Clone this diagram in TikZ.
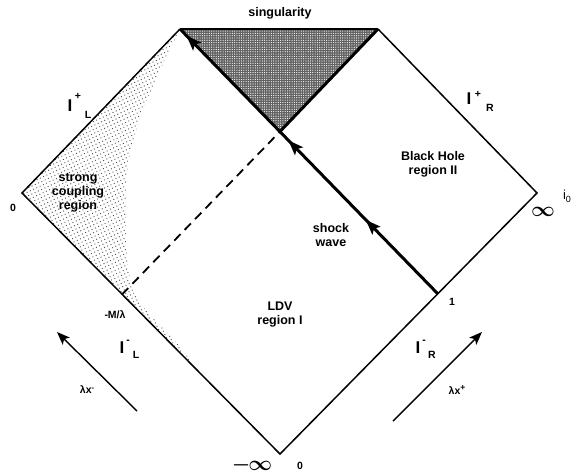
\documentclass[tikz,border=0pt]{standalone}
\usepackage{amsmath}
\usepackage{fontspec}
\setmainfont{Liberation Sans}
\usetikzlibrary{patterns.meta,arrows.meta,decorations.markings}
\begin{document}
\begin{tikzpicture}[x=1pt,y=-1pt,
  lbl/.style={font=\fontsize{12.5}{14}\selectfont\bfseries, align=center, inner sep=0pt},
  small/.style={font=\fontsize{10.5}{11}\selectfont\bfseries, inner sep=0pt},
  bigI/.style={font=\fontsize{17}{17}\selectfont\bfseries, inner sep=0pt},
  supsub/.style={font=\fontsize{10.5}{10}\selectfont\bfseries, inner sep=0pt},
  inf/.style={font=\fontsize{22}{22}\selectfont, inner sep=0pt},
  edgeline/.style={line width=1.5pt, line join=miter},
  thickline/.style={line width=3pt},
  coordarrow/.style={line width=1.4pt, -{Stealth[length=13pt,width=10pt,inset=3pt]}},
  shockarrow/.style={thickline, postaction={decorate}, decoration={markings,
     mark=at position 0.28 with {\arrow{Stealth[length=15pt,width=11pt,inset=3pt]}},
     mark=at position 0.58 with {\arrow{Stealth[length=15pt,width=11pt,inset=3pt]}},
     mark=at position 0.975 with {\arrow{Stealth[length=15pt,width=11pt,inset=3pt]}}}}
]
\useasboundingbox (0,0) rectangle (576,475);

% key points
\coordinate (L) at (22,193);
\coordinate (T1) at (180,29);
\coordinate (T2) at (378,29);
\coordinate (R) at (537,193);
\coordinate (B) at (280,454);
\coordinate (P1) at (438,294);
\coordinate (H) at (280,131.5);
\coordinate (M) at (122,294.5);

% strong coupling stipple region
\fill[pattern={Dots[distance=3.6pt,radius=0.65pt,angle=25]}, pattern color=black!70]
  (T1) -- (L) -- (195,368) .. controls (175,335) and (150,318) .. (138,300)
  .. controls (124,280) and (126,230) .. (126,190)
  .. controls (126,140) and (150,90) .. (T1) -- cycle;

% singularity shaded triangle
\fill[black!62] (T1) -- (T2) -- (H) -- cycle;
\fill[pattern={Dots[distance=2.3pt,radius=0.6pt]}, pattern color=white] (T1) -- (T2) -- (H) -- cycle;

% diagram boundary
\draw[edgeline] (T2) -- (R) -- (B) -- (L) -- (T1);
\draw[line width=2.5pt] (T1) -- (T2);
\draw[thickline] (H) -- (T2);
\draw[line width=1.8pt, dash pattern=on 9pt off 6pt] (M) -- (H);
\draw[shockarrow] (P1) -- (T1);

% coordinate arrows
\coordinate (am1) at (137,411);
\coordinate (am2) at (57,332);
\coordinate (ap1) at (393,421);
\coordinate (ap2) at (482,332);
\draw[coordarrow] (am1) -- (am2);
\draw[coordarrow] (ap1) -- (ap2);

% labels
\node[lbl] (sing) at (280,13) {singularity};
\node[lbl] (bh) at (433,164) {Black Hole\\region II};
\node[lbl] (scr) at (78,193) {strong\\coupling\\region};
\node[lbl] (sw) at (331,235) {shock\\wave};
\node[lbl] (ldv) at (280,315) {LDV\\region I};

\node[bigI] (IpL) at (70,106) {I};
\node[supsub] (IpLs) at (78,96) {+};
\node[supsub] (IpLl) at (88,115) {L};
\node[bigI] (IpR) at (469,99) {I};
\node[supsub] (IpRs) at (478,94) {+};
\node[supsub] (IpRr) at (490,108) {R};
\node[bigI] (ImL) at (122,348) {I};
\node[supsub] (ImLs) at (128,342) {-};
\node[supsub] (ImLl) at (136,355) {L};
\node[bigI] (ImR) at (418,348) {I};
\node[supsub] (ImRs) at (424,342) {-};
\node[supsub] (ImRr) at (432,355) {R};

\node[small] (zl) at (13,208) {0};
\node[small] (mml) at (115,315) {-M/λ};
\node[small] (one) at (452,302) {1};
\node[small] (zb) at (300,466) {0};
\node[small] (lxm) at (87,390) {λx\raisebox{3.5pt}{\fontsize{7.5}{7}\selectfont -}};
\node[small] (lxp) at (457,390) {λx\raisebox{3.5pt}{\fontsize{8.5}{8}\selectfont +}};

\node[inf] (infr) at (543,212) {$\boldsymbol{\infty}$};
\node[inf] (minf) at (252,465) {$\boldsymbol{-}\hspace{-2pt}\boldsymbol{\infty}$};
\node[lbl, font=\fontsize{13}{13}\selectfont] (io) at (567,196) {i\raisebox{-3pt}{\fontsize{9}{9}\selectfont 0}};
\end{tikzpicture}
\end{document}
